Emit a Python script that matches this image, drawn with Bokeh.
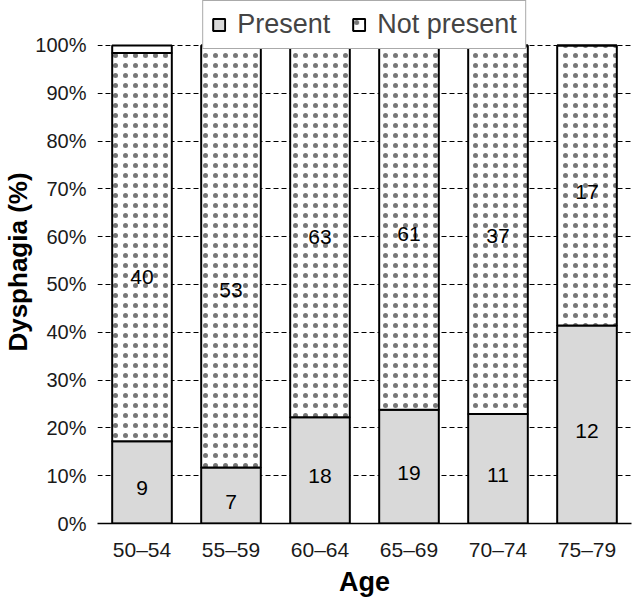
from bokeh.plotting import figure
from bokeh.models import FactorRange, Range1d, FixedTicker, Legend, LegendItem, ColumnDataSource, Title
from bokeh.core.properties import value
from bokeh.embed import file_html
from bokeh.resources import INLINE

# ---- data ----
ages = ["50–54", "55–59", "60–64", "65–69", "70–74", "75–79"]
present_n = [9, 7, 18, 19, 11, 12]
not_present_n = [40, 53, 63, 61, 37, 17]
present_pct = [17.2, 11.7, 22.2, 23.8, 22.9, 41.4]
not_present_pct = [81.2, 88.3, 77.8, 76.2, 77.1, 58.6]
other_pct = [1.6, 0, 0, 0, 0, 0]
y_ticks = [0, 10, 20, 30, 40, 50, 60, 70, 80, 90, 100]
y_tick_labels = [f"{t}%" for t in y_ticks]

FONT = "Liberation Sans"

p_top = present_pct
np_bottom = present_pct
np_top = [a + b for a, b in zip(present_pct, not_present_pct)]
ot_top = [a + b for a, b in zip(np_top, other_pct)]

# label heights (% axis): midpoints, with the first two placed as in the source
np_mid = [b + (t - b) / 2 for b, t in zip(np_bottom, np_top)]
np_label_y = [52.8, 50.1] + np_mid[2:]

src = ColumnDataSource(dict(
    age=ages, p_top=p_top, np_bottom=np_bottom, np_top=np_top, ot_top=ot_top,
    p_lab=[str(v) for v in present_n], np_lab=[str(v) for v in not_present_n],
    p_y=[v / 2 for v in present_pct],
    np_y=np_label_y,
))

# frame extends above 100% to hold the legend
p = figure(x_range=FactorRange(*ages, range_padding=0), y_range=Range1d(0, 109.4),
           frame_width=534, frame_height=523, output_backend="svg", toolbar_location=None,
           min_border_left=89, min_border_right=1, min_border_bottom=68, min_border_top=0)
p.outline_line_color = None
p.background_fill_color = "white"

W = 0.67
r_present = p.vbar(x="age", bottom=0, top="p_top", width=W, source=src,
                   fill_color="#d9d9d9", line_color="black", line_width=2)
r_not = p.vbar(x="age", bottom="np_bottom", top="np_top", width=W, source=src,
               fill_color="white", line_color="black", line_width=2,
               hatch_pattern="dot", hatch_color="#777777", hatch_scale=10, hatch_weight=0.5)
p.vbar(x="age", bottom="np_top", top="ot_top", width=W, source=src,
       fill_color="white", line_color="black", line_width=2)

p.text(x="age", y="p_y", text="p_lab", source=src, text_align="center",
       text_baseline="middle", y_offset=6, text_font=value(FONT), text_font_size="21px",
       text_color="black")
p.text(x="age", y="np_y", text="np_lab", source=src, text_align="center",
       text_baseline="middle", y_offset=6, text_font=value(FONT), text_font_size="21px",
       text_color="black")

# axes
p.xgrid.grid_line_color = None
p.ygrid.ticker = FixedTicker(ticks=y_ticks[1:])
p.ygrid.grid_line_color = "black"
p.ygrid.grid_line_dash = "5 3"
p.ygrid.grid_line_width = 1
p.ygrid.level = "underlay"

p.yaxis.ticker = FixedTicker(ticks=y_ticks)
p.yaxis.major_label_overrides = {t: l for t, l in zip(y_ticks, y_tick_labels)}
p.yaxis.axis_line_color = None
p.yaxis.major_tick_line_color = None
p.yaxis.minor_tick_line_color = None
p.yaxis.major_label_standoff = 5
p.yaxis.major_label_text_font = FONT
p.yaxis.major_label_text_font_size = "20px"
p.yaxis.major_label_text_color = "#1a1a1a"

# y-axis title, centred on the 0–100% span (shifted down from frame centre)
p.add_layout(Title(text="Dysphagia (%)", align="center", offset=-21, standoff=0,
                   text_font=FONT, text_font_style="bold", text_font_size="26px",
                   text_color="black"), "left")

p.xaxis.axis_line_color = "black"
p.xaxis.axis_line_width = 1.5
p.xaxis.major_tick_line_color = None
p.xaxis.minor_tick_line_color = None
p.xaxis.major_label_standoff = 8
p.xaxis.major_label_text_font = FONT
p.xaxis.major_label_text_font_size = "21px"
p.xaxis.major_label_text_color = "#1a1a1a"
p.xaxis.axis_label = "Age"
p.xaxis.axis_label_text_font = FONT
p.xaxis.axis_label_text_font_style = "bold"
p.xaxis.axis_label_text_font_size = "27px"
p.xaxis.axis_label_text_color = "black"
p.xaxis.axis_label_standoff = 3

legend = Legend(items=[LegendItem(label="Present", renderers=[r_present]),
                       LegendItem(label="Not present", renderers=[r_not])],
                orientation="horizontal", location="top_center",
                label_text_font=FONT, label_text_font_size="27px",
                glyph_width=15, glyph_height=15, spacing=21, padding=8,
                label_standoff=11, margin=0,
                border_line_color="#555555", border_line_width=1.5,
                background_fill_color="white", background_fill_alpha=1)
p.add_layout(legend, "center")

open("out.html", "w").write(file_html(p, INLINE))
